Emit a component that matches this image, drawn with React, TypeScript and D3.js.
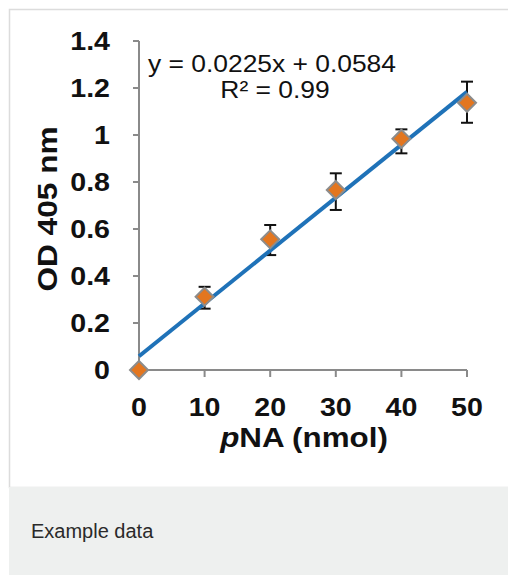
import React from "react";
import * as d3 from "d3";

const xValues = [0, 10, 20, 30, 40, 50];
const yValues = [0, 0.312, 0.556, 0.766, 0.984, 1.137];
const errLow = [0, 0.261, 0.489, 0.681, 0.922, 1.052];
const errHigh = [0, 0.354, 0.617, 0.837, 1.024, 1.227];
const xTicks = [0, 10, 20, 30, 40, 50];
const yTicks = [0, 0.2, 0.4, 0.6, 0.8, 1, 1.2, 1.4];
const slope = 0.0225;
const intercept = 0.0584;
const eqText = "y = 0.0225x + 0.0584";
const r2Text = "R² = 0.99";
const caption = "Example data";

export default function App() {
  const W = 508, H = 575;
  const x = d3.scaleLinear().domain([0, 50]).range([139, 467]);
  const y = d3.scaleLinear().domain([0, 1.4]).range([370, 41]);
  const line = d3.line<number>().x((d) => x(d)).y((d) => y(slope * d + intercept));
  const font = "Arial, 'Liberation Sans', sans-serif";
  const axisColor = "#8a8a8a";
  const sx = 1.1;
  return (
    <svg width={W} height={H} style={{ position: "absolute", left: 0, top: 0 }}>
      <rect x={0} y={0} width={W} height={H} fill="#fff" />
      <rect x={9.5} y={9.5} width={W} height={478} fill="#fff" stroke="#dcdcdc" strokeWidth={1.5} />
      <rect x={9} y={487} width={W} height={H - 487} fill="#eef0ef" />
      <text x={31} y={538} fontFamily={font} fontSize={20} fill="#2a2a2a">{caption}</text>

      {/* axes */}
      <line x1={x(0)} x2={x(0)} y1={y(1.4)} y2={y(0)} stroke={axisColor} strokeWidth={2} />
      <line x1={x(0)} x2={x(50)} y1={y(0)} y2={y(0)} stroke={axisColor} strokeWidth={2} />
      {yTicks.map((t) => (
        <g key={"y" + t}>
          <line x1={x(0) - 6} x2={x(0)} y1={y(t)} y2={y(t)} stroke={axisColor} strokeWidth={2} />
          <text transform={`translate(110,${y(t)}) scale(${sx},1)`} dy="0.36em" textAnchor="end" fontFamily={font} fontWeight="bold" fontSize={26} fill="#111">
            {d3.format("~g")(t)}
          </text>
        </g>
      ))}
      {xTicks.map((t) => (
        <g key={"x" + t}>
          <line x1={x(t)} x2={x(t)} y1={y(0)} y2={y(0) + 7} stroke={axisColor} strokeWidth={2} />
          <text transform={`translate(${x(t)},416) scale(${sx},1)`} textAnchor="middle" fontFamily={font} fontWeight="bold" fontSize={26} fill="#111">
            {t}
          </text>
        </g>
      ))}
      <text transform={`translate(304,447) scale(1.12,1)`} textAnchor="middle" fontFamily={font} fontWeight="bold" fontSize={28} fill="#111">
        <tspan fontStyle="italic">p</tspan>NA (nmol)
      </text>
      <text transform={`translate(57,209) rotate(-90) scale(1.13,1)`} textAnchor="middle" fontFamily={font} fontWeight="bold" fontSize={28} fill="#111">
        OD 405 nm
      </text>

      {/* equation */}
      <text transform={`translate(148,72) scale(${sx},1)`} fontFamily={font} fontSize={24} fill="#111">{eqText}</text>
      <text transform={`translate(275,98) scale(${sx},1)`} textAnchor="middle" fontFamily={font} fontSize={24} fill="#111">{r2Text}</text>

      {/* error bars */}
      {xValues.map((xv, i) =>
        errHigh[i] - errLow[i] > 0 ? (
          <g key={"e" + i} stroke="#111" strokeWidth={2}>
            <line x1={x(xv)} x2={x(xv)} y1={y(errLow[i])} y2={y(errHigh[i])} />
            <line x1={x(xv) - 6} x2={x(xv) + 6} y1={y(errLow[i])} y2={y(errLow[i])} />
            <line x1={x(xv) - 6} x2={x(xv) + 6} y1={y(errHigh[i])} y2={y(errHigh[i])} />
          </g>
        ) : null
      )}

      {/* fit line */}
      <path d={line([0, 50]) || ""} fill="none" stroke="#1f72b8" strokeWidth={4} />

      {/* markers */}
      {xValues.map((xv, i) => {
        const cx = x(xv), cy = y(yValues[i]), r = 9;
        return (
          <path key={"m" + i} d={`M${cx},${cy - r}L${cx + r},${cy}L${cx},${cy + r}L${cx - r},${cy}Z`}
            fill="#e3761f" stroke="#8c8c8c" strokeWidth={2} />
        );
      })}
    </svg>
  );
}
